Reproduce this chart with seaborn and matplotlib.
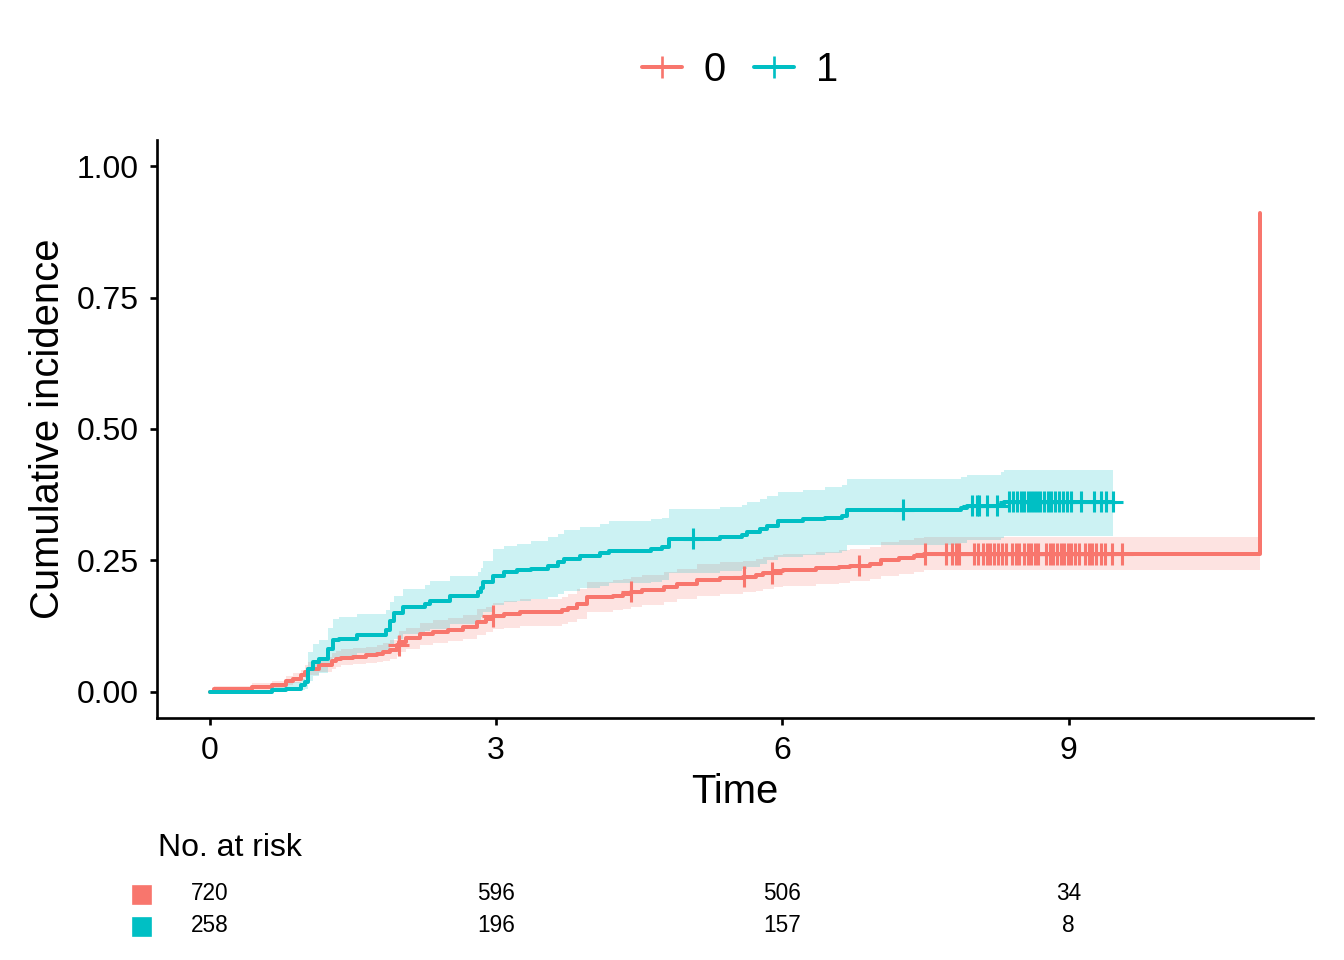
import numpy as np
import pandas as pd
import matplotlib
matplotlib.use('Agg')
import matplotlib.pyplot as plt
import matplotlib.transforms as mtransforms
from matplotlib.lines import Line2D
from matplotlib.patches import Rectangle
import seaborn as sns

# ---- data ----
groups = ['0', '1']
colors = {'0': '#F8766D', '1': '#00BFC4'}

# group 0: step times and cumulative incidence
t0 = [0, 0.05, 0.44, 0.65, 0.80, 0.87, 0.96, 1.00, 1.03, 1.15, 1.28, 1.33, 1.38, 1.50,
      1.64, 1.75, 1.82, 1.89, 1.96, 1.99, 2.06, 2.20, 2.34, 2.50, 2.66, 2.80, 2.90, 2.97,
      3.09, 3.25, 3.69, 3.76, 3.85, 3.95, 4.23, 4.33, 4.42, 4.53, 4.76, 4.90, 5.11, 5.35,
      5.59, 5.72, 5.80, 5.91, 6.01, 6.35, 6.59, 6.71, 6.92, 7.03, 7.22, 7.38, 7.48, 11.01]
est0 = [0, 0.005, 0.009, 0.012, 0.020, 0.025, 0.031, 0.038, 0.044, 0.051, 0.058, 0.063, 0.065, 0.067,
        0.069, 0.072, 0.0755, 0.080, 0.088, 0.095, 0.102, 0.110, 0.114, 0.118, 0.123, 0.1325, 0.1375, 0.144,
        0.148, 0.151, 0.155, 0.159, 0.167, 0.180, 0.183, 0.186, 0.1907, 0.1945, 0.199, 0.205, 0.213, 0.216,
        0.219, 0.223, 0.226, 0.2294, 0.2325, 0.235, 0.237, 0.240, 0.244, 0.2515, 0.254, 0.258, 0.262, 0.912]
lo0 = [0, 0.001, 0.004, 0.006, 0.012, 0.016, 0.021, 0.027, 0.032, 0.038, 0.044, 0.048, 0.050, 0.052,
       0.054, 0.056, 0.059, 0.063, 0.070, 0.076, 0.082, 0.089, 0.092, 0.096, 0.100, 0.108, 0.113, 0.119,
       0.122, 0.125, 0.128, 0.132, 0.139, 0.152, 0.155, 0.158, 0.162, 0.165, 0.170, 0.176, 0.183, 0.186,
       0.189, 0.192, 0.195, 0.199, 0.202, 0.205, 0.207, 0.210, 0.214, 0.221, 0.224, 0.228, 0.232, 0.232]
hi0 = [0, 0.010, 0.016, 0.020, 0.030, 0.035, 0.042, 0.050, 0.057, 0.066, 0.073, 0.078, 0.081, 0.083,
       0.086, 0.089, 0.093, 0.098, 0.107, 0.115, 0.122, 0.131, 0.136, 0.140, 0.146, 0.157, 0.162, 0.169,
       0.173, 0.177, 0.181, 0.186, 0.195, 0.208, 0.212, 0.215, 0.219, 0.223, 0.228, 0.234, 0.243, 0.246,
       0.249, 0.253, 0.256, 0.260, 0.263, 0.266, 0.269, 0.272, 0.276, 0.285, 0.288, 0.292, 0.295, 0.295]
cens0 = [1.98, 2.97, 4.42, 5.60, 5.89, 6.80, 7.50, 7.72, 7.78, 7.82, 7.85, 8.01, 8.05, 8.10, 8.14,
         8.18, 8.22, 8.26, 8.30, 8.34, 8.41, 8.45, 8.48, 8.53, 8.57, 8.61, 8.65, 8.68, 8.76, 8.80,
         8.84, 8.88, 8.92, 8.95, 8.99, 9.03, 9.07, 9.11, 9.17, 9.21, 9.25, 9.29, 9.34, 9.38, 9.45, 9.56]

# group 1
t1 = [0, 0.65, 0.80, 0.96, 1.00, 1.03, 1.08, 1.15, 1.24, 1.29, 1.36, 1.54, 1.85, 1.89, 1.93,
      2.03, 2.26, 2.31, 2.52, 2.81, 2.84, 2.87, 2.97, 3.09, 3.22, 3.37, 3.55, 3.65, 3.71, 3.88,
      4.09, 4.18, 4.63, 4.74, 4.81, 5.35, 5.58, 5.63, 5.77, 5.84, 5.96, 6.22, 6.45, 6.63, 6.68,
      7.87, 7.94, 8.29, 8.32, 9.47]
est1 = [0, 0.003, 0.006, 0.012, 0.018, 0.044, 0.056, 0.062, 0.082, 0.0975, 0.100, 0.108, 0.118, 0.135, 0.150,
        0.161, 0.167, 0.1735, 0.183, 0.190, 0.198, 0.209, 0.221, 0.2275, 0.231, 0.234, 0.240, 0.246, 0.253, 0.258,
        0.264, 0.2686, 0.272, 0.2745, 0.291, 0.295, 0.299, 0.3036, 0.309, 0.316, 0.3245, 0.328, 0.331, 0.335, 0.3466,
        0.349, 0.354, 0.358, 0.362, 0.362]
lo1 = [0, 0.000, 0.001, 0.003, 0.006, 0.020, 0.030, 0.035, 0.052, 0.064, 0.066, 0.073, 0.079, 0.090, 0.100,
       0.110, 0.115, 0.120, 0.129, 0.136, 0.142, 0.152, 0.165, 0.170, 0.173, 0.176, 0.181, 0.186, 0.192, 0.197,
       0.202, 0.206, 0.209, 0.212, 0.226, 0.230, 0.234, 0.238, 0.243, 0.250, 0.257, 0.261, 0.264, 0.268, 0.280,
       0.283, 0.288, 0.292, 0.296, 0.296]
hi1 = [0, 0.010, 0.018, 0.025, 0.038, 0.075, 0.090, 0.098, 0.122, 0.139, 0.143, 0.148, 0.155, 0.170, 0.183,
       0.196, 0.203, 0.210, 0.220, 0.228, 0.236, 0.248, 0.272, 0.278, 0.282, 0.286, 0.294, 0.300, 0.308, 0.313,
       0.320, 0.324, 0.328, 0.331, 0.348, 0.351, 0.356, 0.361, 0.366, 0.372, 0.380, 0.384, 0.389, 0.393, 0.405,
       0.408, 0.413, 0.418, 0.422, 0.422]
cens1 = [5.07, 7.27, 7.99, 8.04, 8.06, 8.15, 8.25, 8.38, 8.42, 8.46, 8.50, 8.53, 8.57, 8.61, 8.64,
         8.67, 8.70, 8.74, 8.78, 8.82, 8.86, 8.90, 8.94, 8.98, 9.02, 9.13, 9.27, 9.34, 9.39, 9.46]

risk_times = [0, 3, 6, 9]
risk0 = [720, 596, 506, 34]
risk1 = [258, 196, 157, 8]

# ---- build tables ----
curves = pd.concat([
    pd.DataFrame({'time': t0, 'est': est0, 'lo': lo0, 'hi': hi0, 'group': '0'}),
    pd.DataFrame({'time': t1, 'est': est1, 'lo': lo1, 'hi': hi1, 'group': '1'}),
], ignore_index=True)


def censor_table(times, cvals, evals, g):
    idx = np.searchsorted(times, cvals, side='right') - 1
    return pd.DataFrame({'time': cvals, 'est': np.asarray(evals)[idx], 'group': g})


cens = pd.concat([censor_table(t0, cens0, est0, '0'),
                  censor_table(t1, cens1, est1, '1')], ignore_index=True)

# ---- plot ----
sns.set_theme(style='ticks')
plt.rcParams['font.family'] = ['Liberation Sans', 'DejaVu Sans']
plt.rcParams['text.color'] = 'black'

fig = plt.figure(figsize=(7, 5), dpi=192)
ax = fig.add_axes([157 / 1344, 1 - 718 / 960, (1313 - 157) / 1344, (718 - 140) / 960])

# confidence bands (group 0 band runs to the last time, group 1 band stops at 9.46)
for g in groups:
    d = curves[curves['group'] == g]
    if g == '1':
        d = d.copy()
        d.loc[d.index[-1], 'time'] = 9.46
    ax.fill_between(d['time'], d['lo'], d['hi'], step='post',
                    color=colors[g], alpha=0.2, linewidth=0)

sns.lineplot(data=curves, x='time', y='est', hue='group', palette=colors,
             estimator=None, sort=False, drawstyle='steps-post', linewidth=1.5,
             legend=False, ax=ax)
sns.scatterplot(data=cens, x='time', y='est', hue='group', palette=colors,
                marker='+', s=64, linewidth=1.15, legend=False, ax=ax, zorder=3)

ax.set_xlim(-0.5505, 11.5605)
ax.set_ylim(-0.05, 1.05)
ax.set_xticks([0, 3, 6, 9])
ax.set_yticks([0, 0.25, 0.5, 0.75, 1.0])
ax.set_yticklabels(['0.00', '0.25', '0.50', '0.75', '1.00'])
ax.set_xlabel('')
ax.set_ylabel('')
sns.despine(ax=ax)
for sp in ['left', 'bottom']:
    ax.spines[sp].set_linewidth(1.0)
    ax.spines[sp].set_color('black')
ax.tick_params(axis='both', length=2.8, width=1.0, color='black',
               labelsize=12, labelcolor='black', pad=4.0)

fig.text(48 / 1344, 1 - 429 / 960, 'Cumulative incidence', rotation=90,
         ha='center', va='center', fontsize=15, color='black')
fig.text(735 / 1344, 1 - 792 / 960, 'Time', ha='center', va='center',
         fontsize=15, color='black')

# legend on top
handles = [Line2D([0], [0], color=colors[g], lw=1.5, marker='+', markersize=8,
                  markeredgewidth=1.0) for g in groups]
leg = fig.legend(handles, groups, loc='center', bbox_to_anchor=(740 / 1344, 1 - 70 / 960),
                 ncol=2, frameon=False, fontsize=15, handlelength=1.0,
                 handletextpad=0.55, columnspacing=0.7)
for txt in leg.get_texts():
    txt.set_color('black')

# risk table
fig.text(158 / 1344, 1 - 848 / 960, 'No. at risk', ha='left', va='center',
         fontsize=12, color='black')
trans = mtransforms.blended_transform_factory(ax.transData, fig.transFigure)
for g, counts, yrow in [('0', risk0, 894), ('1', risk1, 926)]:
    yf = 1 - yrow / 960
    fig.patches.append(Rectangle((133 / 1344, yf - 8.5 / 960), 17 / 1344, 17 / 960,
                                 transform=fig.transFigure, color=colors[g]))
    for tt, n in zip(risk_times, counts):
        ax.text(tt, yf, str(n), transform=trans, ha='center', va='center',
                fontsize=8.5, color='black', clip_on=False)

fig.savefig('out.png', dpi=192)
